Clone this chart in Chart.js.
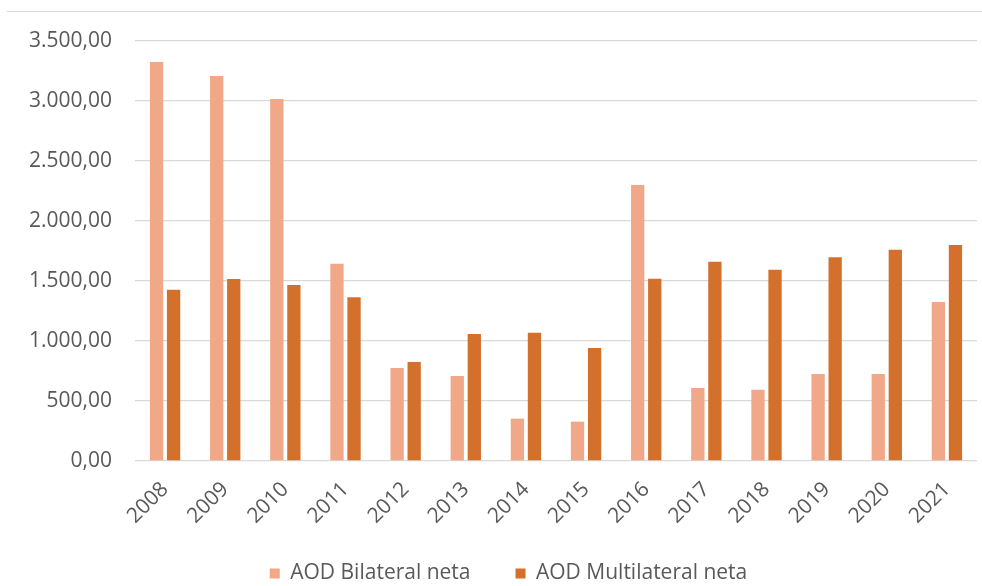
<!DOCTYPE html>
<html>
<head>
<meta charset="utf-8">
<script src="https://cdn.jsdelivr.net/npm/chart.js@4"></script>
<style>
  html, body { margin: 0; padding: 0; background: #fff; }
  #wrap { position: relative; width: 982px; height: 586px; }
  #top-rule { position: absolute; top: 11px; left: 7px; right: 0; height: 1px; background: #d9d9d9; }
  canvas { position: absolute; left: 0; top: 0; }
</style>
</head>
<body>
<div id="wrap">
  <div id="top-rule"></div>
  <canvas id="chart" width="982" height="586"></canvas>
</div>
<script>
// ── Data ─────────────────────────────────────────────────
const years = ["2008", "2009", "2010", "2011", "2012", "2013", "2014",
               "2015", "2016", "2017", "2018", "2019", "2020", "2021"];
const bilateral    = [3325, 3208, 3017, 1644, 775, 708, 353, 328, 2300, 608, 594, 725, 725, 1325];
const multilateral = [1428, 1517, 1467, 1364, 825, 1058, 1069, 942, 1519, 1661, 1594, 1697, 1761, 1800];
const yMax  = 3500;
const yStep = 500;

// ── Helpers ──────────────────────────────────────────────

// 3500 -> "3.500,00"
function fmt(v) {
  const parts = Math.abs(v).toFixed(2).split(".");
  const int = parts[0].replace(/\B(?=(\d{3})+(?!\d))/g, ".");
  return (v < 0 ? "-" : "") + int + "," + parts[1];
}

// legend: wide gap between items, but a short box sitting low on the page
const LEGEND_PAD = 45;
const legendFix = {
  id: "legendFix",
  afterInit(chart) {
    const lg = chart.legend;
    const fit = lg.fit.bind(lg);
    const draw = lg.draw.bind(lg);
    lg.fit = function () { fit(); this.height = 33; };
    lg.draw = function () {
      const saved = [this.top, this.left, this.right];
      this.top -= LEGEND_PAD - 10;
      this.left += 20;
      this.right += 20;
      draw();
      [this.top, this.left, this.right] = saved;
    };
  }
};

Chart.defaults.font.family = "'Open Sans', 'Noto Sans', sans-serif";
Chart.defaults.font.size = 21;
Chart.defaults.color = "#595959";

// ── Chart ────────────────────────────────────────────────
new Chart(document.getElementById("chart"), {
  type: "bar",
  data: {
    labels: years,
    datasets: [
      {
        label: "AOD Bilateral neta",
        data: bilateral,
        backgroundColor: "#f1a889",
        categoryPercentage: 0.567,
        barPercentage: 0.78
      },
      {
        label: "AOD Multilateral neta",
        data: multilateral,
        backgroundColor: "#d3702c",
        categoryPercentage: 0.567,
        barPercentage: 0.78
      }
    ]
  },
  options: {
    responsive: false,
    animation: false,
    layout: { padding: { top: 41, right: 5, left: 0, bottom: 0 } },
    plugins: {
      tooltip: { enabled: false },
      legend: {
        position: "bottom",
        labels: {
          boxWidth: 10,
          boxHeight: 10,
          padding: LEGEND_PAD,
          color: "#595959",
          font: { size: 21 }
        }
      }
    },
    scales: {
      x: {
        grid: { display: false },
        border: { display: false },
        ticks: {
          autoSkip: false,
          minRotation: 45,
          maxRotation: 45,
          padding: 8,
          color: "#595959"
        },
        afterFit(scale) { scale.height = 92; }
      },
      y: {
        min: 0,
        max: yMax,
        grid: { color: "#d9d9d9", lineWidth: 1.3, drawTicks: false },
        border: { display: false },
        ticks: {
          stepSize: yStep,
          padding: 23,
          color: "#595959",
          callback: (v) => fmt(v)
        },
        afterFit(scale) { scale.width = 135; }
      }
    }
  },
  plugins: [legendFix]
});
</script>
</body>
</html>
